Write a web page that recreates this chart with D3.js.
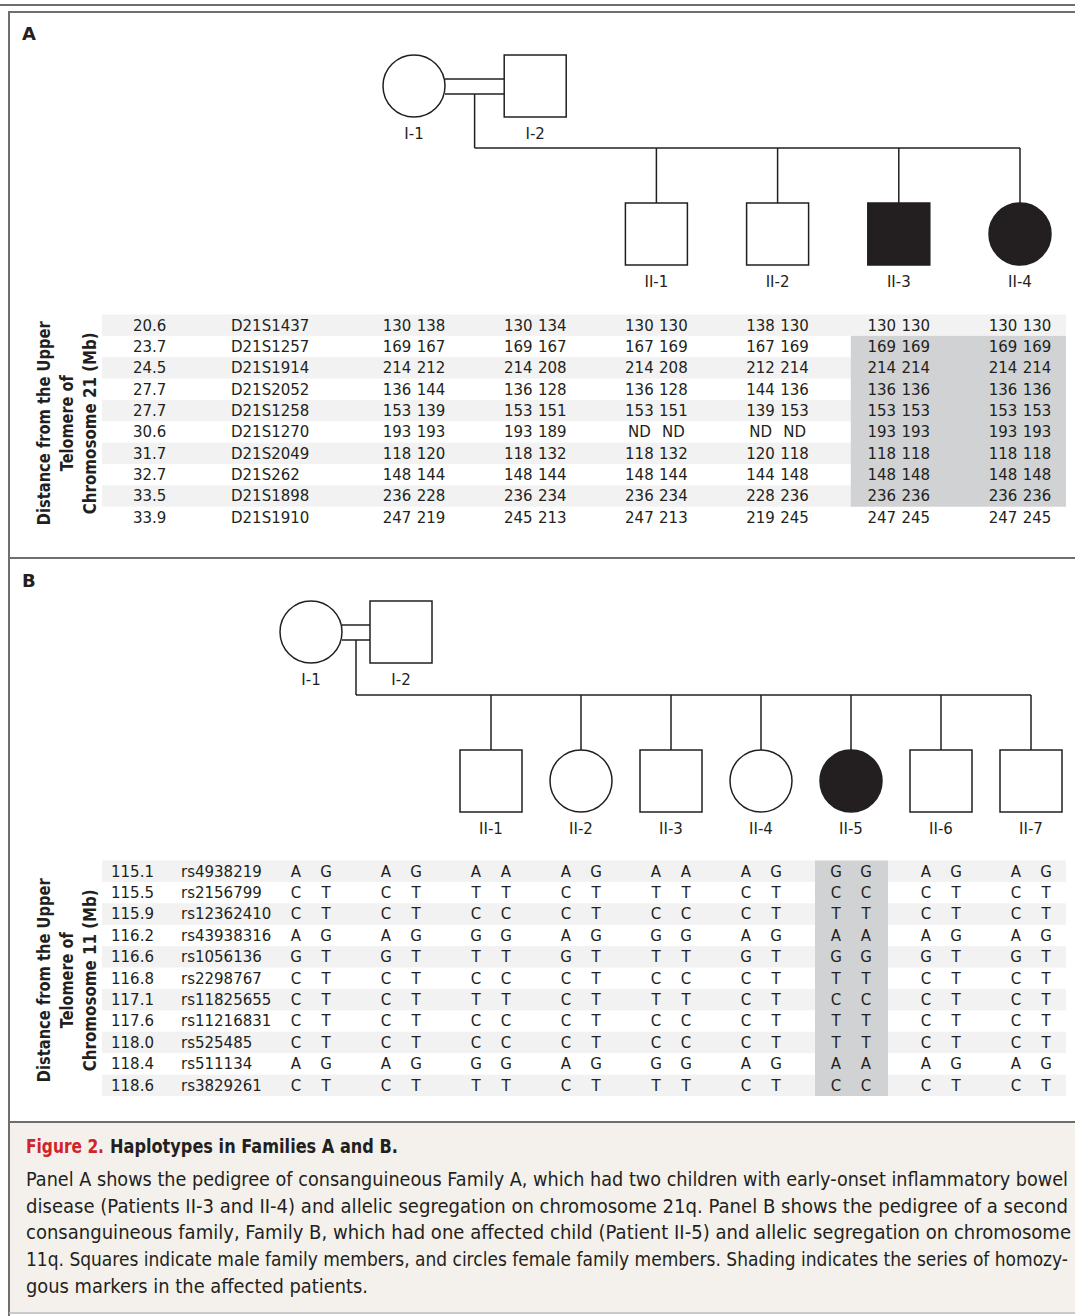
<!DOCTYPE html>
<html>
<head>
<meta charset="utf-8">
<script src="https://cdn.jsdelivr.net/npm/d3@7"></script>
<style>
  body { margin: 0; background: #fff; }
  svg text { font-family: "DejaVu Sans", sans-serif; fill: #231f20; }
</style>
</head>
<body>
<div class="main"></div>
<script>
// ---- Family A (chromosome 21) ----
let idsA = ['I-1', 'I-2', 'II-1', 'II-2', 'II-3', 'II-4']
let sexA = ['F', 'M', 'M', 'M', 'M', 'F']
let genA = [1, 1, 2, 2, 2, 2]
let affectedA = [0, 0, 0, 0, 1, 1]
let distA = ['20.6', '23.7', '24.5', '27.7', '27.7', '30.6', '31.7', '32.7', '33.5', '33.9']
let markersA = ['D21S1437', 'D21S1257', 'D21S1914', 'D21S2052', 'D21S1258', 'D21S1270', 'D21S2049', 'D21S262', 'D21S1898', 'D21S1910']
let genoA = [
  ['130 138', '169 167', '214 212', '136 144', '153 139', '193 193', '118 120', '148 144', '236 228', '247 219'],
  ['130 134', '169 167', '214 208', '136 128', '153 151', '193 189', '118 132', '148 144', '236 234', '245 213'],
  ['130 130', '167 169', '214 208', '136 128', '153 151', 'ND ND', '118 132', '148 144', '236 234', '247 213'],
  ['138 130', '167 169', '212 214', '144 136', '139 153', 'ND ND', '120 118', '144 148', '228 236', '219 245'],
  ['130 130', '169 169', '214 214', '136 136', '153 153', '193 193', '118 118', '148 148', '236 236', '247 245'],
  ['130 130', '169 169', '214 214', '136 136', '153 153', '193 193', '118 118', '148 148', '236 236', '247 245']
]
let shadeA = {people: ['II-3', 'II-4'], rows: [1, 8]}

// ---- Family B (chromosome 11) ----
let idsB = ['I-1', 'I-2', 'II-1', 'II-2', 'II-3', 'II-4', 'II-5', 'II-6', 'II-7']
let sexB = ['F', 'M', 'M', 'F', 'M', 'F', 'F', 'M', 'M']
let genB = [1, 1, 2, 2, 2, 2, 2, 2, 2]
let affectedB = [0, 0, 0, 0, 0, 0, 1, 0, 0]
let distB = ['115.1', '115.5', '115.9', '116.2', '116.6', '116.8', '117.1', '117.6', '118.0', '118.4', '118.6']
let markersB = ['rs4938219', 'rs2156799', 'rs12362410', 'rs43938316', 'rs1056136', 'rs2298767', 'rs11825655', 'rs11216831', 'rs525485', 'rs511134', 'rs3829261']
let het = ['A G', 'C T', 'C T', 'A G', 'G T', 'C T', 'C T', 'C T', 'C T', 'A G', 'C T']
let genoB = [
  het, het,
  ['A A', 'T T', 'C C', 'G G', 'T T', 'C C', 'T T', 'C C', 'C C', 'G G', 'T T'],
  het,
  ['A A', 'T T', 'C C', 'G G', 'T T', 'C C', 'T T', 'C C', 'C C', 'G G', 'T T'],
  het,
  ['G G', 'C C', 'T T', 'A A', 'G G', 'T T', 'C C', 'T T', 'T T', 'A A', 'C C'],
  het, het
]
let shadeB = {people: ['II-5'], rows: [0, 10]}

let captionHead = ['Figure 2.', 'Haplotypes in Families A and B.']
let captionLines = [
  'Panel A shows the pedigree of consanguineous Family A, which had two children with early-onset inflammatory bowel',
  'disease (Patients II-3 and II-4) and allelic segregation on chromosome 21q. Panel B shows the pedigree of a second',
  'consanguineous family, Family B, which had one affected child (Patient II-5) and allelic segregation on chromosome',
  '11q. Squares indicate male family members, and circles female family members. Shading indicates the series of homozy-',
  'gous markers in the affected patients.'
]

let W = 1075, H = 1316
let ink = '#231f20', frame = '#6e6e6e'
let svg = d3.select('.main').append('svg').attr('width', W).attr('height', H)

// frame lines
svg.append('line').attr('x1', 0).attr('x2', W).attr('y1', 5).attr('y2', 5).attr('stroke', frame).attr('stroke-width', 2)
svg.append('rect').attr('x', 9).attr('y', 1122).attr('width', W - 9).attr('height', 190).attr('fill', '#f4f1ec')
svg.append('path').attr('d', `M${W},12 H9 V${H}`).attr('fill', 'none').attr('stroke', frame).attr('stroke-width', 2)
svg.append('line').attr('x1', 9).attr('x2', W).attr('y1', 558).attr('y2', 558).attr('stroke', frame).attr('stroke-width', 2)
svg.append('line').attr('x1', 9).attr('x2', W).attr('y1', 1122).attr('y2', 1122).attr('stroke', frame).attr('stroke-width', 2)
svg.append('line').attr('x1', 9).attr('x2', W).attr('y1', 1313).attr('y2', 1313).attr('stroke', '#b9b9b9').attr('stroke-width', 1.5)

function panel(cfg) {
  let g = svg.append('g')
  let n = cfg.ids.length
  let x = d3.scaleLinear().domain([0, n - 1]).range(cfg.xRange)
  let y = d3.scaleBand().domain(d3.range(cfg.dist.length)).range(cfg.yRange)
  let r = 31

  g.append('text').attr('x', 22).attr('y', cfg.letterY).attr('font-weight', 'bold').attr('font-size', 18).text(cfg.letter)

  // stripes and shading
  g.selectAll('rect.stripe').data(d3.range(cfg.dist.length).filter(i => i % 2 === 0)).enter().append('rect')
    .attr('x', 102).attr('width', 964).attr('y', i => y(i)).attr('height', y.bandwidth()).attr('fill', '#f2f2f2')
  let si = cfg.shade.people.map(p => cfg.ids.indexOf(p))
  g.append('rect')
    .attr('x', x(d3.min(si)) - cfg.shadePad[0])
    .attr('width', x(d3.max(si)) - x(d3.min(si)) + cfg.shadePad[0] + cfg.shadePad[1])
    .attr('y', y(cfg.shade.rows[0]))
    .attr('height', y(cfg.shade.rows[1]) + y.bandwidth() - y(cfg.shade.rows[0]))
    .attr('fill', '#d1d2d4')

  // pedigree lines
  let cy1 = cfg.genY[0], cy2 = cfg.genY[1]
  let xF = x(0), xM = x(1)
  let midX = (xF + r + xM - r) / 2
  let kids = d3.range(n).filter(i => cfg.gen[i] === 2)
  let line = (x1, y1, x2, y2) => g.append('line').attr('x1', x1).attr('y1', y1).attr('x2', x2).attr('y2', y2)
    .attr('stroke', ink).attr('stroke-width', 1.5)
  line(xF + r, cy1 - 7, xM - r, cy1 - 7)
  line(xF + r, cy1 + 8, xM - r, cy1 + 8)
  line(midX, cy1 + 8, midX, cfg.sibY)
  line(midX, cfg.sibY, x(d3.max(kids)), cfg.sibY)
  kids.forEach(i => line(x(i), cfg.sibY, x(i), cy2 - r))

  // symbols
  d3.range(n).forEach(i => {
    let cx = x(i), cy = cfg.gen[i] === 1 ? cy1 : cy2
    let fill = cfg.affected[i] ? ink : '#fff'
    if (cfg.sex[i] === 'F') {
      g.append('circle').attr('cx', cx).attr('cy', cy).attr('r', r).attr('fill', fill).attr('stroke', ink).attr('stroke-width', 1.5)
    } else {
      g.append('rect').attr('x', cx - r).attr('y', cy - r).attr('width', 2 * r).attr('height', 2 * r)
        .attr('fill', fill).attr('stroke', ink).attr('stroke-width', 1.5)
    }
    g.append('text').attr('x', cx).attr('y', cy + r + 22).attr('text-anchor', 'middle').attr('font-size', 15).text(cfg.ids[i])
  })

  // table
  let row = i => y(i) + y.bandwidth() / 2
  g.selectAll('text.dist').data(cfg.dist).enter().append('text')
    .attr('x', cfg.distX).attr('y', (d, i) => row(i)).attr('dy', '0.36em').attr('font-size', 15).text(d => d)
  g.selectAll('text.mk').data(cfg.markers).enter().append('text')
    .attr('x', cfg.markerX).attr('y', (d, i) => row(i)).attr('dy', '0.36em').attr('font-size', 15).text(d => d)
  cfg.geno.forEach((col, p) => {
    col.forEach((gt, i) => {
      let [a, b] = gt.split(' ')
      g.append('text').attr('x', x(p) - cfg.allele).attr('y', row(i)).attr('dy', '0.36em')
        .attr('text-anchor', 'middle').attr('font-size', 15).text(a)
      g.append('text').attr('x', x(p) + cfg.allele).attr('y', row(i)).attr('dy', '0.36em')
        .attr('text-anchor', 'middle').attr('font-size', 15).text(b)
    })
  })

  // rotated axis title (condensed to the reference width)
  let mid = (cfg.yRange[0] + cfg.yRange[1]) / 2
  let titleLens = [204, 96, 182]
  cfg.title.forEach((s, i) => {
    g.append('text').attr('transform', `translate(${50 + i * 23},${mid + 2}) rotate(-90)`)
      .attr('text-anchor', 'middle').attr('font-family', 'Lato, sans-serif').attr('font-weight', 'bold')
      .attr('font-size', 18).attr('textLength', titleLens[i]).attr('lengthAdjust', 'spacingAndGlyphs').text(s)
  })
}

panel({
  letter: 'A', letterY: 40, ids: idsA, sex: sexA, gen: genA, affected: affectedA,
  dist: distA, markers: markersA, geno: genoA, shade: shadeA,
  xRange: [414, 1020], yRange: [314.5, 528], genY: [86, 234], sibY: 148,
  distX: 133, markerX: 231, allele: 17, shadePad: [48, 46],
  title: ['Distance from the Upper', 'Telomere of', 'Chromosome 21 (Mb)']
})

panel({
  letter: 'B', letterY: 587, ids: idsB, sex: sexB, gen: genB, affected: affectedB,
  dist: distB, markers: markersB, geno: genoB, shade: shadeB,
  xRange: [311, 1031], yRange: [860.5, 1096], genY: [632, 781], sibY: 695,
  distX: 111, markerX: 181, allele: 15, shadePad: [36, 37],
  title: ['Distance from the Upper', 'Telomere of', 'Chromosome 11 (Mb)']
})

// caption
let cap = svg.append('g').attr('font-family', '"Liberation Sans Narrow", "DejaVu Sans Condensed", sans-serif')
cap.append('text').attr('x', 26).attr('y', 1153).attr('font-size', 19).attr('font-weight', 'bold')
  .attr('textLength', 78).attr('lengthAdjust', 'spacingAndGlyphs')
  .style('fill', '#d2232a').text(captionHead[0])
cap.append('text').attr('x', 110).attr('y', 1153).attr('font-size', 19).attr('font-weight', 'bold')
  .attr('textLength', 288).attr('lengthAdjust', 'spacingAndGlyphs').text(captionHead[1])
let lineEnds = [1068, 1068, 1071, 1068, 368]
captionLines.forEach((s, i) => {
  cap.append('text').attr('x', 26).attr('y', 1186 + i * 26.7).attr('font-size', 19)
    .attr('textLength', lineEnds[i] - 26).attr('lengthAdjust', 'spacingAndGlyphs').text(s)
})
</script>
</body>
</html>
